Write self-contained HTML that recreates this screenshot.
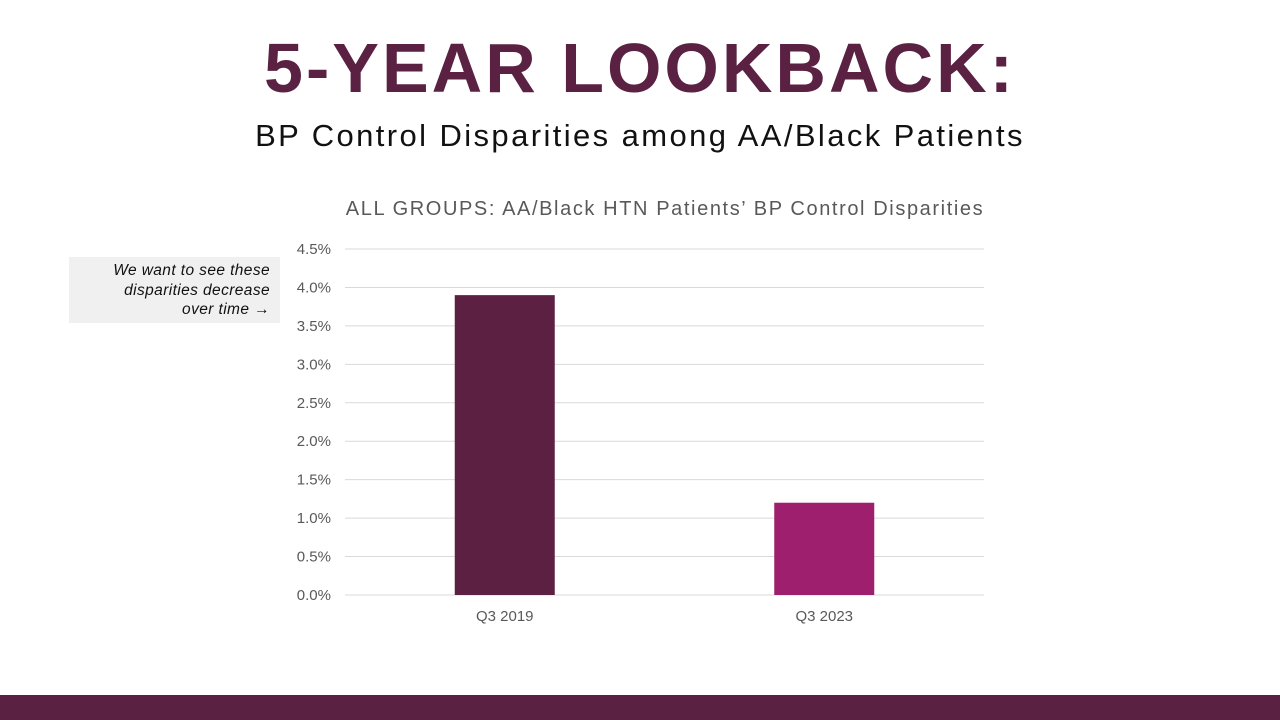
<!DOCTYPE html>
<html><head><meta charset="utf-8"><style>
body{margin:0;width:1280px;height:720px;background:#fff;overflow:hidden;position:relative;font-family:"Liberation Sans",sans-serif}
#title{position:absolute;top:26px;left:0;width:1280px;text-align:center;font-size:70px;font-weight:bold;color:#5a2142;letter-spacing:3px;line-height:84px}
#subtitle{position:absolute;top:116px;left:0;width:1280px;text-align:center;font-size:31px;color:#111;line-height:40px;letter-spacing:2.4px}
#note{position:absolute;left:69px;top:257px;width:211px;height:66px;background:#f0f0f0;box-sizing:border-box;padding:4px 10px 0 0;text-align:right;font-style:italic;font-size:15.5px;line-height:19.5px;color:#111;letter-spacing:0.4px}
#footer{position:absolute;left:0;top:695px;width:1280px;height:25px;background:#5a2142}
svg{position:absolute;left:0;top:0}
</style></head><body>
<div id="title">5-YEAR LOOKBACK:</div>
<div id="subtitle">BP Control Disparities among AA/Black Patients</div>
<div id="note">We want to see these<br>disparities decrease<br>over time →</div>
<svg id="chart" width="1280" height="720"></svg>
<div id="footer"></div>
<script>
const categories=["Q3 2019","Q3 2023"];
const values=[3.9,1.2];
const ticks=[0,0.5,1,1.5,2,2.5,3,3.5,4,4.5];
const colors=["#5c2142","#9e1f6d"];
const ns="http://www.w3.org/2000/svg";
const svg=document.getElementById('chart');
const L=345,R=984,T=249,B=595,maxV=4.5;
const y=v=>B-(v/maxV)*(B-T);
const band=(R-L)/categories.length;
const xc=i=>L+band*(i+0.5);
function mk(tag,attrs){const e=document.createElementNS(ns,tag);for(const k in attrs)e.setAttribute(k,attrs[k]);svg.appendChild(e);return e;}
const t=mk('text',{x:665,y:215,'text-anchor':'middle','font-size':'20','fill':'#595959','letter-spacing':'1.6','font-family':'Liberation Sans, sans-serif'});
t.textContent="ALL GROUPS: AA/Black HTN Patients’ BP Control Disparities";


ticks.forEach(v=>{
 const l=mk('line',{x1:L,x2:R,y1:y(v),y2:y(v),stroke:'#d9d9d9','stroke-width':1});
 
 
 const tx=mk('text',{x:331,y:y(v)+5,'text-anchor':'end','font-size':'15','fill':'#595959'});
 tx.textContent=v.toFixed(1)+'%';
 
 
});
values.forEach((v,i)=>{
 const w=100;
 const r=mk('rect',{x:xc(i)-w/2,y:y(v),width:w,height:B-y(v),fill:colors[i]});
 
 
 const tx=mk('text',{x:xc(i),y:621,'text-anchor':'middle','font-size':'15','fill':'#595959'});
 tx.textContent=categories[i];
 
 
});
</script>
</body></html>
